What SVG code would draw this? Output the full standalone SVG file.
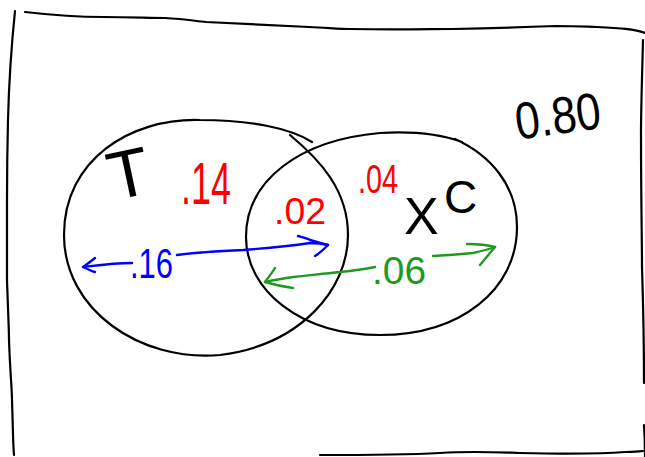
<svg xmlns="http://www.w3.org/2000/svg" width="645" height="457" viewBox="0 0 645 457">
<style>
.ink{fill:none;stroke:#000;stroke-width:2.2;stroke-linecap:round;stroke-linejoin:round}
.blue{fill:none;stroke:#0000ff;stroke-width:2.4;stroke-linecap:round;stroke-linejoin:round}
.green{fill:none;stroke:#1f9a1f;stroke-width:2.4;stroke-linecap:round;stroke-linejoin:round}
text{font-family:"Liberation Sans",Arial,sans-serif;font-weight:normal}
.r{fill:#ff0000}.b{fill:#0000ff}.g{fill:#1f9a1f}.k{fill:#000}
</style>
<rect width="645" height="457" fill="#fff"/>
<g id="frame">
<path class="ink" d="M25,12 C60,16 90,17 103,17 C130,17 150,18 165,18 C185,19 195,21 206,22 C250,24 290,26 309,27 C330,28 340,29 350,29 C400,30 430,29 453,29 C500,28 530,27 556,26 C580,26 590,27 597,27 C620,28 635,29 645,33"/>
<path class="ink" d="M15,11 C12,40 9,80 8,120 C7,160 7,180 7,200 C7,240 7,260 7,280 C8,310 9,330 9,340 C10,370 12,390 12,400 C13,430 13,445 14,455"/>
<path class="ink" d="M643,40 C642,80 641,110 641,133 C641,200 642,240 642,267 C643,300 644,330 644,383"/>
<path class="ink" d="M644,425 C645,440 645,450 645,457"/>
<path class="ink" d="M320,455 C370,455 400,455 440,453 C470,451 490,452 520,453 C560,454 600,454 625,452 C635,452 640,451 643,451"/>
</g>
<g id="node-T">
<path class="ink" d="M290,135 C320,160 348,190 348,235 C348,290 300,345 220,355 C140,362 64,310 64,235 C64,160 130,118 200,120 C250,120 290,128 312,142"/>
<text class="k" x="107" y="197" font-size="68" transform="rotate(-12 128 170)">T</text>
</g>
<g id="node-XC">
<path class="ink" d="M455,139 C490,155 517,185 517,227 C517,290 460,335 380,335 C300,335 246,290 246,237 C246,180 300,140 380,133 C415,131 440,134 462,142"/>
<text class="k" font-size="52"><tspan x="404" y="234">X</tspan><tspan x="444" y="213" font-size="46">C</tspan></text>
</g>
<g id="labels">
<text class="r" x="181" y="204" font-size="60" textLength="50" lengthAdjust="spacingAndGlyphs">.14</text>
<text class="r" x="274" y="224" font-size="37" textLength="52" lengthAdjust="spacingAndGlyphs">.02</text>
<text class="r" x="358" y="193" font-size="40" textLength="40" lengthAdjust="spacingAndGlyphs">.04</text>
<text class="k" x="514" y="134" font-size="52" textLength="86" lengthAdjust="spacingAndGlyphs" transform="rotate(-8 557 110)">0.80</text>
<text class="b" x="130" y="278" font-size="43" textLength="43" lengthAdjust="spacingAndGlyphs">.16</text>
<text class="g" x="372" y="284" font-size="38" textLength="54" lengthAdjust="spacingAndGlyphs">.06</text>
</g>
<g id="connectors">
<path class="blue" d="M132,263 C115,263 100,265 83,267"/>
<path class="blue" d="M95,258 C90,262 86,265 83,267 C87,269 91,271 95,272"/>
<path class="blue" d="M177,255 C200,252 220,251 243,250 C270,248 290,246 310,243 C318,243 324,244 328,245"/>
<path class="blue" d="M298,236 C305,238 309,239 310,240 C318,242 324,244 328,245 C324,249 320,253 315,256"/>
<path class="green" d="M375,267 C360,270 350,271 340,272 C320,274 305,276 293,277 C280,279 272,280 265,282"/>
<path class="green" d="M275,268 C272,273 268,278 265,282 C275,285 285,287 293,288"/>
<path class="green" d="M433,256 C450,255 462,254 473,253 C482,251 490,249 495,247"/>
<path class="green" d="M467,244 C478,244 488,245 495,247 C490,253 485,259 480,265"/>
</g>
</svg>
